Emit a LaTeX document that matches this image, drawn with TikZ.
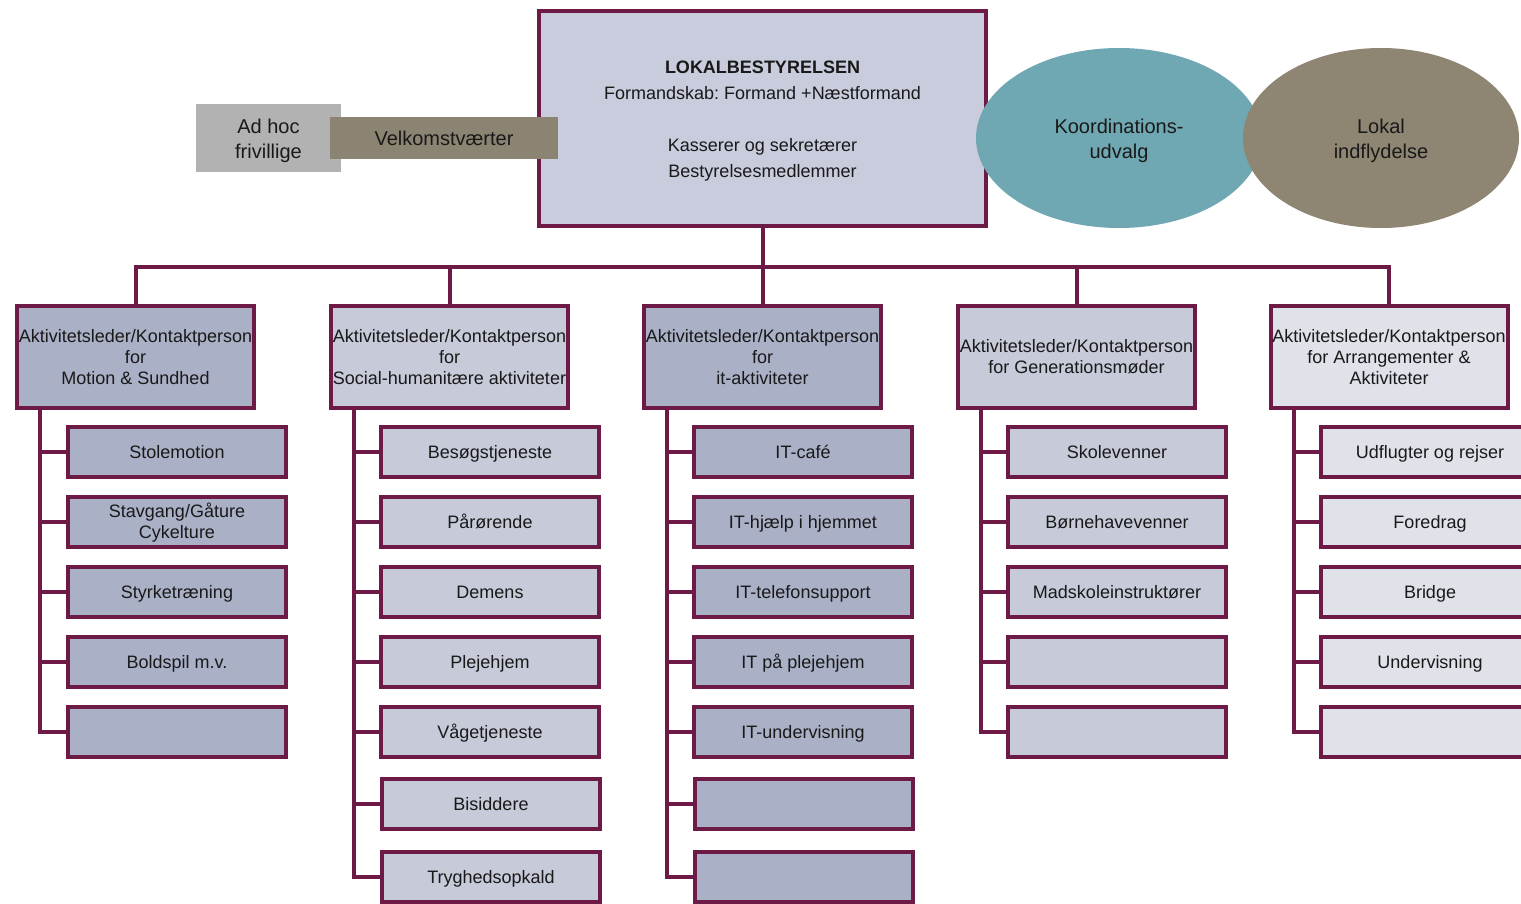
\documentclass[tikz,border=0pt]{standalone}
\usepackage{fontspec}
\setmainfont{Liberation Sans}
\frenchspacing
\usetikzlibrary{shapes.geometric}
\definecolor{bordercol}{RGB}{110,26,70}
\definecolor{topfill}{RGB}{200,204,220}
\definecolor{midfill}{RGB}{170,176,198}
\definecolor{lightfill}{RGB}{198,202,217}
\definecolor{palefill}{RGB}{224,226,234}
\definecolor{ellteal}{RGB}{111,168,178}
\definecolor{elltaupe}{RGB}{142,133,115}
\definecolor{velkcol}{RGB}{140,132,114}
\definecolor{adhoccol}{RGB}{178,178,178}
\definecolor{txt}{RGB}{25,25,25}
\tikzset{
  box/.style={draw=bordercol, line width=4pt, rectangle, align=center, inner sep=0pt, text=txt, font=\fontsize{18}{21}\selectfont},
  hdr/.style={box, minimum width=237pt, minimum height=102pt},
  kidtwo/.style={box, minimum width=218pt, minimum height=50pt},
  kid/.style={kidtwo, text height=13pt, text depth=0pt},
  conn/.style={draw=bordercol, line width=4pt, line join=miter},
  flat/.style={rectangle, inner sep=0pt, align=center, text=txt, font=\fontsize{20}{25}\selectfont},
  oval/.style={ellipse, inner sep=0pt, align=center, text=txt, font=\fontsize{20}{25}\selectfont},
}
\begin{document}
\begin{tikzpicture}[x=1pt,y=-1pt]
\useasboundingbox (0,0) rectangle (1521,904);
\clip (0,0) rectangle (1521,904);
\fill[white] (0,0) rectangle (1521,904);

% top
\node[box, fill=topfill, minimum width=447pt, minimum height=215pt, font=\fontsize{18}{26}\selectfont] (top) at (762.5,118.5)
  {\rule{0pt}{17pt}\textbf{LOKALBESTYRELSEN}\\Formandskab: Formand +Næstformand\\[26pt]Kasserer og sekretærer\\Bestyrelsesmedlemmer};
\node[flat, fill=adhoccol, minimum width=145pt, minimum height=68pt] (adhoc) at (268.5,138) {\rule{0pt}{21pt}Ad hoc\\frivillige};
\node[flat, fill=velkcol, minimum width=228pt, minimum height=42pt] (velk) at (444,138) {Velkomstværter};
\node[oval, fill=ellteal, minimum width=286pt, minimum height=180pt] (koord) at (1119,138) {\rule{0pt}{21pt}Koordinations-\\udvalg};
\node[oval, fill=elltaupe, minimum width=276pt, minimum height=180pt] (lokal) at (1381,138) {\rule{0pt}{21pt}Lokal\\indflydelse};

% headers
\node[hdr, fill=midfill] (h1) at (135.5,357) {Aktivitetsleder/Kontaktperson\\for\\Motion \& Sundhed};
\node[hdr, fill=lightfill] (h2) at (449.5,357) {Aktivitetsleder/Kontaktperson\\for\\Social-humanitære aktiviteter};
\node[hdr, fill=midfill] (h3) at (762.5,357) {Aktivitetsleder/Kontaktperson\\for\\it-aktiviteter};
\node[hdr, fill=lightfill] (h4) at (1076.5,357) {Aktivitetsleder/Kontaktperson\\for Generationsmøder};
\node[hdr, fill=palefill] (h5) at (1389,357) {Aktivitetsleder/Kontaktperson\\for Arrangementer \&\\Aktiviteter};

% trunk
\coordinate (bus) at (0,267);
\draw[conn] (top.south) -- (top.south |- bus);
\draw[conn] (h1.north) -- (h1.north |- bus) -- (h5.north |- bus) -- (h5.north);
\draw[conn] (h2.north) -- (h2.north |- bus);
\draw[conn] (h3.north) -- (h3.north |- bus);
\draw[conn] (h4.north) -- (h4.north |- bus);

% column 1
\node[kid, fill=midfill] (c1a) at (177,452) {Stolemotion};
\node[kidtwo, fill=midfill] (c1b) at (177,522) {\rule{0pt}{15pt}Stavgang/Gåture\\Cykelture};
\node[kid, fill=midfill] (c1c) at (177,592) {Styrketræning};
\node[kid, fill=midfill] (c1d) at (177,662) {Boldspil m.v.};
\node[kid, fill=midfill] (c1e) at (177,732) {};
% column 2
\node[kid, fill=lightfill] (c2a) at (490,452) {Besøgstjeneste};
\node[kid, fill=lightfill] (c2b) at (490,522) {Pårørende};
\node[kid, fill=lightfill] (c2c) at (490,592) {Demens};
\node[kid, fill=lightfill] (c2d) at (490,662) {Plejehjem};
\node[kid, fill=lightfill] (c2e) at (490,732) {Vågetjeneste};
\node[kid, fill=lightfill] (c2f) at (491,804) {Bisiddere};
\node[kid, fill=lightfill] (c2g) at (491,877) {Tryghedsopkald};
% column 3
\node[kid, fill=midfill] (c3a) at (803,452) {IT-café};
\node[kid, fill=midfill] (c3b) at (803,522) {IT-hjælp i hjemmet};
\node[kid, fill=midfill] (c3c) at (803,592) {IT-telefonsupport};
\node[kid, fill=midfill] (c3d) at (803,662) {IT på plejehjem};
\node[kid, fill=midfill] (c3e) at (803,732) {IT-undervisning};
\node[kid, fill=midfill] (c3f) at (804,804) {};
\node[kid, fill=midfill] (c3g) at (804,877) {};
% column 4
\node[kid, fill=lightfill] (c4a) at (1117,452) {Skolevenner};
\node[kid, fill=lightfill] (c4b) at (1117,522) {Børnehavevenner};
\node[kid, fill=lightfill] (c4c) at (1117,592) {Madskoleinstruktører};
\node[kid, fill=lightfill] (c4d) at (1117,662) {};
\node[kid, fill=lightfill] (c4e) at (1117,732) {};
% column 5
\node[kid, fill=palefill] (c5a) at (1430,452) {Udflugter og rejser};
\node[kid, fill=palefill] (c5b) at (1430,522) {Foredrag};
\node[kid, fill=palefill] (c5c) at (1430,592) {Bridge};
\node[kid, fill=palefill] (c5d) at (1430,662) {Undervisning};
\node[kid, fill=palefill] (c5e) at (1430,732) {};

% spines
\coordinate (s1) at ([xshift=25pt]h1.south west);
\coordinate (s2) at ([xshift=25pt]h2.south west);
\coordinate (s3) at ([xshift=25pt]h3.south west);
\coordinate (s4) at ([xshift=25pt]h4.south west);
\coordinate (s5) at ([xshift=25pt]h5.south west);
\draw[conn] (s1) |- (c1e.west);
\foreach \n in {a,b,c,d} \draw[conn] (c1\n.west) -- (c1\n.west -| s1);
\draw[conn] (s2) |- (c2g.west);
\foreach \n in {a,b,c,d,e,f} \draw[conn] (c2\n.west) -- (c2\n.west -| s2);
\draw[conn] (s3) |- (c3g.west);
\foreach \n in {a,b,c,d,e,f} \draw[conn] (c3\n.west) -- (c3\n.west -| s3);
\draw[conn] (s4) |- (c4e.west);
\foreach \n in {a,b,c,d} \draw[conn] (c4\n.west) -- (c4\n.west -| s4);
\draw[conn] (s5) |- (c5e.west);
\foreach \n in {a,b,c,d} \draw[conn] (c5\n.west) -- (c5\n.west -| s5);
\end{tikzpicture}
\end{document}
